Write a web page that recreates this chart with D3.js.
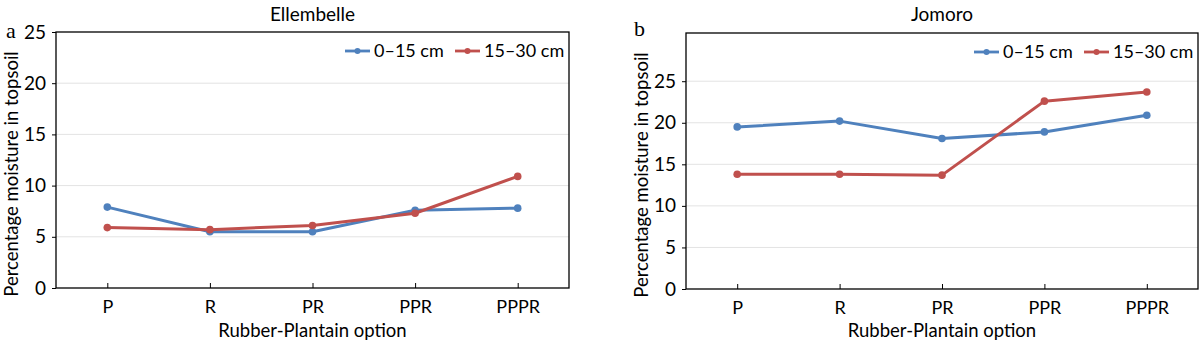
<!DOCTYPE html>
<html>
<head>
<meta charset="utf-8">
<script src="https://cdn.jsdelivr.net/npm/d3@7"></script>
<style>
  body { margin: 0; background: #fff; }
  svg text { font-family: Lato, "Open Sans", sans-serif; fill: #000; }
  .panel-letter { font-family: "Liberation Serif", "DejaVu Serif", serif; }
</style>
</head>
<body>
<div id="chart"></div>
<script>
"use strict";

// Rubber-plantain options on the x axis
var options = ["P", "R", "PR", "PPR", "PPPR"];
var depths = ["0\u201315 cm", "15\u201330 cm"];

// Moisture (%) per option, Ellembelle
var ellShallow = [7.9, 5.5, 5.5, 7.6, 7.8];
var ellDeep = [5.9, 5.7, 6.1, 7.3, 10.9];

// Moisture (%) per option, Jomoro
var jomShallow = [19.5, 20.2, 18.1, 18.9, 20.9];
var jomDeep = [13.8, 13.8, 13.7, 22.6, 23.7];

var yTicks = [0, 5, 10, 15, 20, 25];

var colors = ["#4F81BD", "#C0504D"];

var svg = d3.select("#chart")
        .append("svg")
        .attr("width", 1200)
        .attr("height", 349);

function drawPanel(cfg) {
    var x = d3.scalePoint()
            .domain(options)
            .range([cfg.left, cfg.right])
            .padding(0.5);
    var y = d3.scaleLinear()
            .domain([0, cfg.yMax])
            .range([cfg.bottom, cfg.top]);

    var g = svg.append("g");

    // light horizontal gridlines
    g.selectAll("line.grid")
            .data(yTicks.filter(function (d) { return d > 0 && y(d) > cfg.top + 1; }))
            .enter()
            .append("line")
            .attr("class", "grid")
            .attr("x1", cfg.left)
            .attr("x2", cfg.right)
            .attr("y1", function (d) { return y(d); })
            .attr("y2", function (d) { return y(d); })
            .attr("stroke", "#e3e3e3")
            .attr("stroke-width", 1);

    // frame
    g.append("rect")
            .attr("x", cfg.left)
            .attr("y", cfg.top)
            .attr("width", cfg.right - cfg.left)
            .attr("height", cfg.bottom - cfg.top)
            .attr("fill", "none")
            .attr("stroke", "#000")
            .attr("stroke-width", 1.3);

    var yAxis = g.append("g")
            .attr("transform", "translate(" + cfg.left + ",0)")
            .call(d3.axisLeft(y).tickValues(yTicks).tickSize(4).tickPadding(6));
    yAxis.select(".domain").remove();
    yAxis.selectAll("text").style("font-size", "19px");

    var xAxis = g.append("g")
            .attr("transform", "translate(0," + cfg.bottom + ")")
            .call(d3.axisBottom(x).tickSizeInner(-5).tickSizeOuter(0).tickPadding(12));
    xAxis.select(".domain").remove();
    xAxis.selectAll("text").style("font-size", "18px");

    // series lines and markers
    cfg.series.forEach(function (vals, i) {
        var line = d3.line()
                .x(function (d, j) { return x(options[j]); })
                .y(function (d) { return y(d); });
        g.append("path")
                .datum(vals)
                .attr("d", line)
                .attr("fill", "none")
                .attr("stroke", colors[i])
                .attr("stroke-width", 3)
                .attr("stroke-linejoin", "round");
        g.selectAll("circle.s" + i)
                .data(vals)
                .enter()
                .append("circle")
                .attr("class", "s" + i)
                .attr("cx", function (d, j) { return x(options[j]); })
                .attr("cy", function (d) { return y(d); })
                .attr("r", 3.8)
                .attr("fill", colors[i]);
    });

    // legend, top right inside the frame
    var legend = g.append("g")
            .attr("transform", "translate(0," + (cfg.top + 19) + ")");
    var lx = [cfg.right - 224, cfg.right - 114];
    depths.forEach(function (name, i) {
        legend.append("line")
                .attr("x1", lx[i])
                .attr("x2", lx[i] + 25)
                .attr("stroke", colors[i])
                .attr("stroke-width", 2.8);
        legend.append("circle")
                .attr("cx", lx[i] + 12.5)
                .attr("r", 3)
                .attr("fill", colors[i]);
        legend.append("text")
                .attr("x", lx[i] + 29)
                .attr("dy", "0.35em")
                .style("font-size", "18px")
                .text(name);
    });

    var midX = (cfg.left + cfg.right) / 2;

    g.append("text")
            .attr("x", midX)
            .attr("y", 21)
            .attr("text-anchor", "middle")
            .style("font-size", "19px")
            .text(cfg.title);

    g.append("text")
            .attr("x", midX)
            .attr("y", 337)
            .attr("text-anchor", "middle")
            .style("font-size", "18.5px")
            .text("Rubber-Plantain option");

    g.append("text")
            .attr("transform", "translate(" + (cfg.left - 38) + "," + (cfg.top + 142) + ") rotate(-90)")
            .attr("text-anchor", "middle")
            .style("font-size", "18.5px")
            .text("Percentage moisture in topsoil");

    g.append("text")
            .attr("class", "panel-letter")
            .attr("x", cfg.letterX)
            .attr("y", cfg.letterY)
            .style("font-size", "22px")
            .text(cfg.letter);
}

drawPanel({
    left: 56, right: 569, top: 32, bottom: 288,
    yMax: 25, title: "Ellembelle", letter: "a", letterX: 6, letterY: 38,
    series: [ellShallow, ellDeep]
});

drawPanel({
    left: 686, right: 1198, top: 33, bottom: 289,
    yMax: 30.8, title: "Jomoro", letter: "b", letterX: 634, letterY: 36,
    series: [jomShallow, jomDeep]
});
</script>
</body>
</html>
